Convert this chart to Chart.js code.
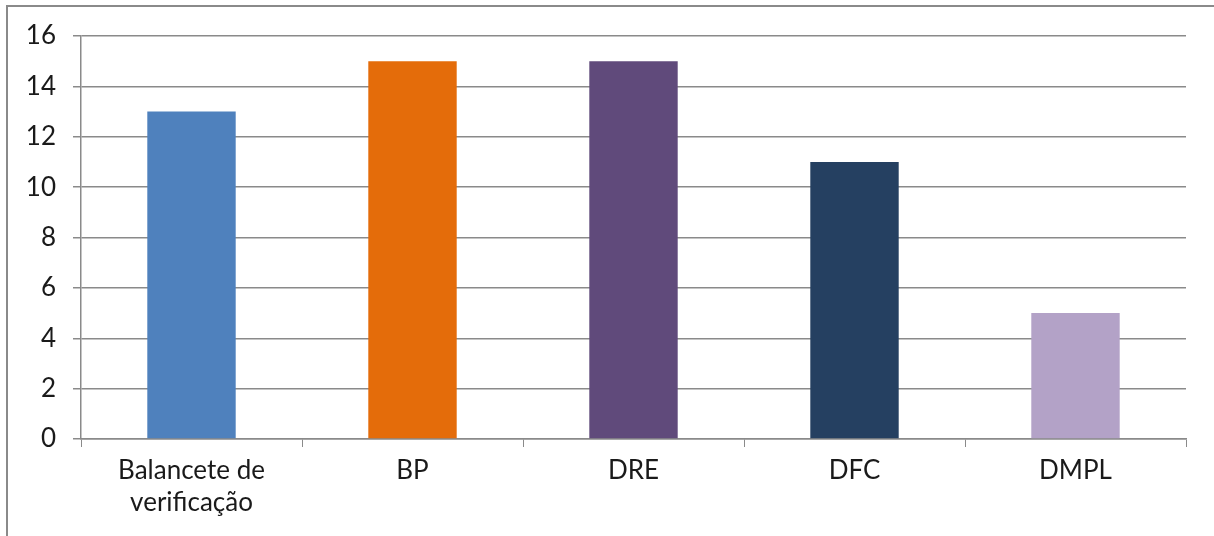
<!DOCTYPE html>
<html>
<head>
<meta charset="utf-8">
<style>
  html, body { margin: 0; padding: 0; background: #fff; }
  #wrap { position: relative; width: 1214px; height: 536px; overflow: hidden; }
  #frame {
    position: absolute; left: 6px; top: 5px; right: -4px; bottom: -4px;
    border-top: 2px solid #8a8a8a; border-left: 2px solid #8a8a8a;
    pointer-events: none;
  }
  canvas { position: absolute; left: 0; top: 0; }
</style>
</head>
<body>
<div id="wrap">
  <canvas id="chart" width="1214" height="536"></canvas>
  <div id="frame"></div>
</div>

<script src="https://cdn.jsdelivr.net/npm/chart.js"></script>
<script>
  const categories = [['Balancete de', 'verificação'], 'BP', 'DRE', 'DFC', 'DMPL'];
  const values = [13, 15, 15, 11, 5];
  const barColors = ['#4F81BD', '#E46C0A', '#604A7B', '#254061', '#B3A2C7'];
  const yTicks = [0, 2, 4, 6, 8, 10, 12, 14, 16];

  const fontFamily = 'Lato, "Open Sans", sans-serif';
  const axisColor = '#8a8a8a';

  const ctx = document.getElementById('chart').getContext('2d');
  new Chart(ctx, {
    type: 'bar',
    data: {
      labels: categories,
      datasets: [{
        data: values,
        backgroundColor: barColors,
        borderWidth: 0,
        categoryPercentage: 1,
        barPercentage: 0.4
      }]
    },
    options: {
      responsive: false,
      animation: false,
      layout: { padding: { top: 36, right: 28, left: 0, bottom: 0 } },
      plugins: {
        legend: { display: false },
        title: { display: false },
        tooltip: { enabled: false }
      },
      scales: {
        x: {
          offset: true,
          grid: {
            offset: true,
            drawOnChartArea: false,
            drawTicks: true,
            tickLength: 8,
            color: axisColor
          },
          border: { color: axisColor, width: 1.5 },
          ticks: {
            color: '#1a1a1a',
            padding: 7,
            maxRotation: 0,
            font: { family: fontFamily, size: 26, lineHeight: 1.25 }
          },
          afterFit: scale => { scale.height = 97; }
        },
        y: {
          min: 0,
          max: 16,
          afterBuildTicks: scale => {
            scale.ticks = yTicks.map(v => ({ value: v }));
          },
          grid: {
            color: axisColor,
            lineWidth: 1.5,
            tickLength: 8
          },
          border: { color: axisColor, width: 1.5 },
          ticks: {
            color: '#1a1a1a',
            padding: 17,
            font: { family: fontFamily, size: 26 }
          },
          afterFit: scale => { scale.width = 81; }
        }
      }
    }
  });
</script>
</body>
</html>
